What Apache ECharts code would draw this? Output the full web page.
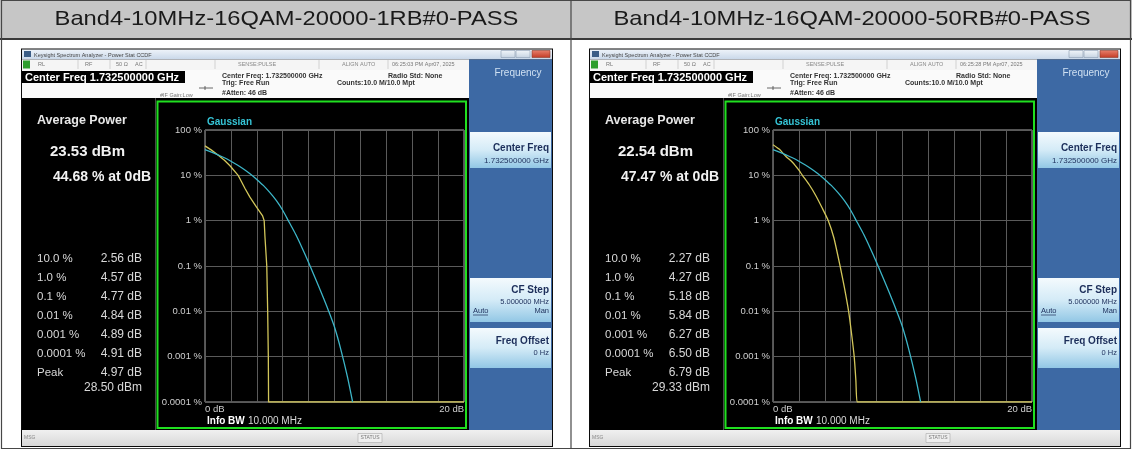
<!DOCTYPE html>
<html><head><meta charset="utf-8">
<script src="https://cdn.jsdelivr.net/npm/echarts@6/dist/echarts.min.js"></script>
<style>html,body{margin:0;padding:0;background:#fff}#c{width:1132px;height:450px}</style>
</head><body><div id="c"></div><script>
const headers = ['Band4-10MHz-16QAM-20000-1RB#0-PASS', 'Band4-10MHz-16QAM-20000-50RB#0-PASS'];
const timestamps = ['06:25:03 PM Apr07, 2025', '06:25:28 PM Apr07, 2025'];
const avgPower = ['23.53 dBm', '22.54 dBm'];
const pctAt0dB = ['44.68 % at 0dB', '47.47 % at 0dB'];
const statLabels = ['10.0 %', '1.0 %', '0.1 %', '0.01 %', '0.001 %', '0.0001 %', 'Peak'];
const stats1RB = ['2.56 dB', '4.57 dB', '4.77 dB', '4.84 dB', '4.89 dB', '4.91 dB', '4.97 dB'];
const stats50RB = ['2.27 dB', '4.27 dB', '5.18 dB', '5.84 dB', '6.27 dB', '6.50 dB', '6.79 dB'];
const peakDbm = ['28.50 dBm', '29.33 dBm'];
const yTickLabels = ['0.0001 %', '0.001 %', '0.01 %', '0.1 %', '1 %', '10 %', '100 %'];
const xTickLabels = ['0 dB', '20 dB'];

// Gaussian reference curve (cyan)
const gaussDb  = [0, 0.5, 1, 1.5, 2, 2.5, 3, 3.5, 4, 4.5, 5, 5.5, 6, 6.5, 7, 7.5, 8, 8.5, 9, 9.5, 10, 10.5, 11, 11.4];
const gaussPct = [36.8, 32.6, 28.4, 24.4, 20.5, 16.9, 13.6, 10.7, 8.1, 6.0, 4.2, 2.8, 1.7, 0.92, 0.5, 0.25, 0.12, 0.055, 0.025, 0.011, 0.0045, 0.0014, 0.00036, 0.0001];
// 1RB measured curve (yellow)
const rb1Db  = [0, 0.5, 1, 1.5, 1.93, 2.56, 2.8, 3.08, 3.47, 3.98, 4.45, 4.57, 4.63, 4.77, 4.84, 4.89, 4.91, 4.97, 20];
const rb1Pct = [44.68, 36, 28, 21.5, 16.3, 10, 7.4, 5.2, 3.3, 2.0, 1.27, 1.0, 0.44, 0.1, 0.01, 0.001, 0.0001, 0.0001, 0.0001];
// 50RB measured curve (yellow)
const rb50Db  = [0, 0.5, 1, 1.5, 2, 2.27, 2.8, 3.3, 3.8, 4.27, 4.7, 5.18, 5.5, 5.84, 6.05, 6.27, 6.4, 6.5, 6.79, 20];
const rb50Pct = [47.47, 37.5, 26, 19.5, 13, 10, 6.2, 3.6, 1.9, 1.0, 0.42, 0.1, 0.035, 0.01, 0.0035, 0.001, 0.0003, 0.0001, 0.0001, 0.0001];

const F = "'Liberation Sans', Arial, sans-serif";
const els = [];
function R(x, y, w, h, fill, stroke, lw) {
  els.push({ type: 'rect', shape: { x: x, y: y, width: w, height: h },
    style: { fill: fill || 'none', stroke: stroke || 'none', lineWidth: lw || 1 } });
}
function L(x1, y1, x2, y2, color, lw) {
  els.push({ type: 'line', shape: { x1: x1, y1: y1, x2: x2, y2: y2 }, style: { stroke: color, lineWidth: lw || 1 } });
}
function T(x, y, text, size, fill, bold, align, sx) {
  els.push({ type: 'text', x: x, y: y, scaleX: sx || 1, style: { text: text, font: (bold ? 'bold ' : '') + size + 'px ' + F,
    fill: fill, align: align || 'left', verticalAlign: 'middle' } });
}
function grad(stops) {
  return { type: 'linear', x: 0, y: 0, x2: 0, y2: 1, colorStops: stops.map(function (c, i) { return { offset: i / (stops.length - 1), color: c }; }) };
}

// table
R(0, 0, 1132, 39, '#c6c6c6');
L(0, 39, 1132, 39, '#3a3a3a', 2);
R(1.5, 0.5, 1129, 448, 'none', '#474747', 1.2);
L(571, 0, 571, 449, '#474747', 1.2);
T(286.5, 19.5, headers[0], 21, '#1a1a1a', false, 'center', 1.13);
T(852, 19.5, headers[1], 21, '#1a1a1a', false, 'center', 1.13);

function panel(p, stats) {
  const d = p * 568;
  // window
  R(21 + d, 48.5, 532, 398.5, '#0b0b0b');
  R(22 + d, 49.5, 530, 10, grad(['#eef3f9', '#c8d7e9']));
  R(24 + d, 51, 7, 6, '#3b5d86');
  T(34 + d, 55, 'Keysight Spectrum Analyzer - Power Stat CCDF', 5.5, '#444');
  R(501 + d, 50.5, 14, 7, grad(['#f2f6fa', '#c6d3e2']), '#8a9bb0', 0.6);
  R(516 + d, 50.5, 14, 7, grad(['#f2f6fa', '#c6d3e2']), '#8a9bb0', 0.6);
  R(532 + d, 50.5, 18, 7, grad(['#e8806c', '#c23a24']), '#8a3a2a', 0.6);
  // status row
  R(22 + d, 59.5, 447, 10.5, '#f5f5f5');
  R(23 + d, 60.5, 7, 8, '#2e9e2e');
  T(38 + d, 64.5, 'RL', 5.5, '#777');
  T(85 + d, 64.5, 'RF', 5.5, '#777');
  T(116 + d, 64.5, '50 \u03a9', 5.5, '#777');
  T(135 + d, 64.5, 'AC', 5.5, '#777');
  T(238 + d, 64.5, 'SENSE:PULSE', 5.5, '#888');
  T(342 + d, 64.5, 'ALIGN AUTO', 5.5, '#888');
  T(392 + d, 64.5, timestamps[p], 5.5, '#777');
  [78, 110, 146, 215, 319, 388].forEach(function (x) { L(x + d, 60, x + d, 69, '#c8c8c8', 0.8); });
  // info area
  R(22 + d, 70, 447, 28, '#fafafa');
  R(22 + d, 71, 163, 12, '#000');
  T(25 + d, 77.5, 'Center Freq 1.732500000 GHz', 11, '#ffffff', true);
  T(222 + d, 76, 'Center Freq: 1.732500000 GHz', 7, '#333', true);
  T(222 + d, 83, 'Trig: Free Run', 7, '#333', true);
  T(222 + d, 93, '#Atten: 46 dB', 7, '#333', true);
  T(337 + d, 83, 'Counts:10.0 M/10.0 Mpt', 7, '#333', true);
  T(388 + d, 76, 'Radio Std: None', 7, '#333', true);
  T(160 + d, 95, '#IF Gain:Low', 5.5, '#777');
  L(199 + d, 88, 213 + d, 88, '#444', 0.8);
  L(205 + d, 86, 205 + d, 90, '#444', 0.8);
  // black display area
  R(22 + d, 98, 447, 332, '#000');
  L(155.5 + d, 98, 155.5 + d, 430, '#4a4a4a', 1);
  R(157.5 + d, 101.5, 308.5, 326.5, 'none', '#20e020', 2);
  // left stats panel
  T(37 + d, 121, 'Average Power', 12.5, '#e8e8e8', true);
  T(50 + d, 152, avgPower[p], 15, '#f2f2f2', true);
  T(53 + d, 177, pctAt0dB[p], 14, '#f2f2f2', true);
  const rowY = [259, 278, 297, 315.5, 334.5, 353.5, 373];
  for (let i = 0; i < statLabels.length; i++) {
    T(37 + d, rowY[i], statLabels[i], 11.5, '#d8d8d8');
    T(142 + d, rowY[i], stats[i], 12, '#d8d8d8', false, 'right');
  }
  T(142 + d, 388, peakDbm[p], 12, '#d8d8d8', false, 'right');
  // plot captions
  T(207 + d, 122, 'Gaussian', 10, '#35c4d6', true);
  T(207 + d, 421, 'Info BW', 10, '#ffffff', true);
  T(248 + d, 421, '10.000 MHz', 10, '#d8d8d8');
  // softkey panel
  R(469 + d, 59.5, 83, 370.5, '#3d69a4');
  T(518 + d, 73, 'Frequency', 10, '#cfe0f2', false, 'center');
  R(470 + d, 132, 81, 36, grad(['#f4fafd', '#d4ebf7', '#92c7e5']));
  T(549 + d, 148, 'Center Freq', 10, '#1c2e5a', true, 'right');
  T(549 + d, 161, '1.732500000 GHz', 8, '#1c2e5a', false, 'right');
  R(470 + d, 278, 81, 44, grad(['#f4fafd', '#d4ebf7', '#92c7e5']));
  T(549 + d, 290, 'CF Step', 10, '#1c2e5a', true, 'right');
  T(549 + d, 302, '5.000000 MHz', 7.5, '#1c2e5a', false, 'right');
  T(473 + d, 311, 'Auto', 7.5, '#1c2e5a');
  L(473 + d, 315, 488 + d, 315, '#1c2e5a', 0.7);
  T(549 + d, 311, 'Man', 7.5, '#1c2e5a', false, 'right');
  R(470 + d, 328, 81, 40, grad(['#f4fafd', '#d4ebf7', '#92c7e5']));
  T(549 + d, 341, 'Freq Offset', 10, '#1c2e5a', true, 'right');
  T(549 + d, 353, '0 Hz', 7.5, '#1c2e5a', false, 'right');
  // bottom bar
  R(22 + d, 430, 530, 16, grad(['#f0f0f0', '#d8d8d8']));
  T(24 + d, 438, 'MSG', 5, '#888');
  R(358 + d, 433.5, 24, 9, '#efefef', '#aaa', 0.6);
  T(370 + d, 438, 'STATUS', 5, '#777', false, 'center');
}
panel(0, stats1RB);
panel(1, stats50RB);

function zip(a, b) { return a.map(function (v, i) { return [v, b[i]]; }); }

function xAx(i) {
  return { type: 'value', gridIndex: i, min: 0, max: 20, interval: 2, z: 10,
    axisLine: { show: false }, axisTick: { show: false },
    splitLine: { show: true, lineStyle: { color: '#5a5a5a', width: 1 } },
    axisLabel: { show: true, margin: 2, fontSize: 9.5, color: '#cfcfcf', fontFamily: F,
      alignMinLabel: 'left', alignMaxLabel: 'right', showMinLabel: true, showMaxLabel: true,
      formatter: function (v) { return v === 0 ? xTickLabels[0] : (v === 20 ? xTickLabels[1] : ''); } } };
}
function yAx(i) {
  return { type: 'log', gridIndex: i, logBase: 10, min: 0.0001, max: 100, splitNumber: 6, z: 10,
    axisLine: { show: false }, axisTick: { show: false },
    splitLine: { show: true, lineStyle: { color: '#5a5a5a', width: 1 } },
    axisLabel: { margin: 3, fontSize: 9.5, color: '#cfcfcf', fontFamily: F,
      formatter: function (v) { return yTickLabels[Math.round(Math.log10(v)) + 4]; } } };
}
function ser(i, data, color, smooth) {
  return { type: 'line', xAxisIndex: i, yAxisIndex: i, data: data, showSymbol: false, symbol: 'none',
    smooth: smooth, z: 12, lineStyle: { color: color, width: 1.3 }, itemStyle: { color: color }, animation: false };
}

const chart = echarts.init(document.getElementById('c'), null, { renderer: 'canvas' });
chart.setOption({
  animation: false,
  graphic: { elements: els },
  grid: [
    { left: 205, top: 130, width: 259, height: 272, show: true, borderColor: '#a8a8a8', borderWidth: 1, backgroundColor: 'transparent', z: 10 },
    { left: 773, top: 130, width: 259, height: 272, show: true, borderColor: '#a8a8a8', borderWidth: 1, backgroundColor: 'transparent', z: 10 }
  ],
  xAxis: [xAx(0), xAx(1)],
  yAxis: [yAx(0), yAx(1)],
  series: [
    ser(0, zip(rb1Db, rb1Pct), '#d2c65a', false),
    ser(0, zip(gaussDb, gaussPct), '#3db6c8', 0.3),
    ser(1, zip(rb50Db, rb50Pct), '#d2c65a', 0.2),
    ser(1, zip(gaussDb, gaussPct), '#3db6c8', 0.3)
  ]
});
</script></body></html>
